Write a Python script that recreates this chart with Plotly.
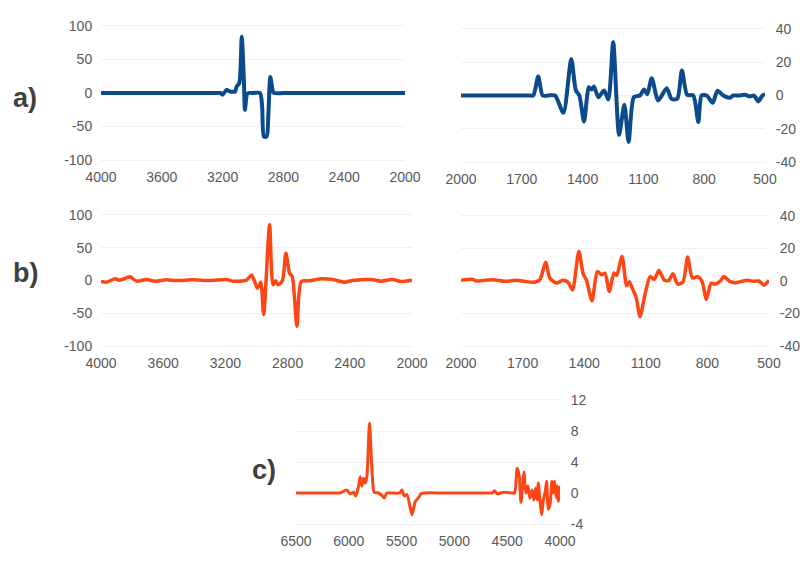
import plotly.graph_objects as go

# a) left: 4000-2000
a_left_x = [4000, 3700, 3400, 3250, 3215, 3200, 3173, 3150, 3134, 3118, 3107, 3090, 3074, 3060, 3053,
            3040, 3031, 3000, 2954, 2940, 2928, 2910, 2899, 2886, 2870, 2862, 2800, 2600, 2300, 2000]
a_left_y = [0, 0, 0, 0, 0, -2.5, 5, 2, 2, 2, 10, 15, 84, 20, -25,
            -2, 0, 0, 0, -20, -65, -65, -32, 24, 3, 0, 0, 0, 0, 0]

# a) right: 2000-500
a_right_x = [2000, 1900, 1800, 1700, 1660, 1643, 1619, 1597, 1570, 1536, 1495, 1456, 1433, 1416, 1393,
             1369, 1355, 1344, 1322, 1294, 1273, 1249, 1220, 1194, 1173, 1147, 1117, 1097, 1081, 1059,
             1027, 985, 961, 933, 910, 884, 854, 829, 813, 788, 758, 735, 706, 673, 657,
             630, 599, 574, 554, 533, 512, 500]
a_right_y = [0, 0, 0, 0, 0, 0, 11.4, 0, 0, 0, -10.4, 22, 3, 0, -15.6,
             5, 3.6, 5.4, -1, 3, -2.4, 32, -23.6, -5.6, -28, -1, 0, 3.6, 0.8, 10.4,
             -3, 4.4, -2, -2, 15, 0.4, 0, -16, 0, 0, -4.4, 2.8, 0, -1.4, 0,
             0, 0.4, -0.6, 0, -3.6, 0, 0.6]

# b) left: 4000-2000
b_left_x = [4000, 3965, 3943, 3910, 3878, 3814, 3771, 3707, 3653, 3579, 3514, 3407, 3300, 3194, 3151,
            3065, 3031, 2995, 2973, 2954, 2916, 2894, 2877, 2862, 2834, 2811, 2787, 2770, 2740, 2712,
            2659, 2584, 2509, 2434, 2381, 2263, 2199, 2124, 2071, 2000]
b_left_y = [-1.5, -2.5, -0.5, 2.5, 0.5, 5.6, -1, 1.5, -1, 1, 0, 1, 0, 1.5, -1,
            0.5, 8.6, -11.7, -2.5, -52, 85, -6.6, -0.5, -6.6, -0.5, 41.6, 11, 6, -70, -1.5,
            -0.5, 2.5, 1.5, -2.5, 0, 1.5, -1, 1.5, -1.5, 0.5]

# b) right: 2000-500
b_right_x = [2000, 1943, 1925, 1880, 1845, 1780, 1731, 1690, 1649, 1617, 1587, 1568, 1535, 1503, 1478,
             1457, 1426, 1405, 1389, 1362, 1336, 1315, 1299, 1278, 1255, 1242, 1216, 1193, 1180, 1164,
             1147, 1128, 1108, 1079, 1059, 1036, 1010, 989, 968, 945, 919, 896, 873, 847, 826,
             805, 782, 761, 736, 720, 691, 663, 639, 606, 573, 549, 524, 500]
b_right_y = [0.4, 1, 0, 0.5, 0.8, -0.2, 0.5, -0.2, -0.8, 0.6, 11.6, 1.9, -1.2, 0.4, -0.8,
             -5.6, 18.2, 4.4, 0.6, -12.2, 5.8, 3.9, 4.8, -6.4, 5, 3.3, 15.1, -2.9, -0.4, -5,
             -10, -22, -10.8, 2.7, 1, 6.4, 0.6, 0.2, 4.4, -1.9, -0.6, 14.7, 1.9, 2.7, -0.2,
             -11.2, -1.5, -1.9, 0.2, 2.7, -0.2, -1, -0.4, 0.4, -0.2, 0, -2.5, 0.4]

# c): 6500-4000
c_x = [6500, 6300, 6100, 6082, 6019, 5987, 5956, 5934, 5908, 5892, 5877, 5861, 5845, 5829, 5804,
       5778, 5759, 5718, 5687, 5665, 5639, 5600, 5519, 5497, 5475, 5449, 5402, 5370, 5339, 5316,
       5290, 5100, 4900, 4660, 4642, 4620, 4595, 4532, 4450, 4430, 4405, 4386, 4370, 4354, 4342,
       4323, 4304, 4285, 4263, 4247, 4231, 4215, 4206, 4190, 4174, 4158, 4139, 4127, 4111, 4095,
       4076, 4063, 4051, 4035, 4025, 4016, 4000]
c_y = [0, 0, 0, 0, 0.4, -0.1, 0.1, -0.4, 0.9, 2.1, 0.9, 1.9, 1.3, 2.1, 9.0,
       2.4, 0.1, 0, -0.3, -0.65, 0, 0, 0, 0.4, -0.4, -0.2, -2.8, -1.1, -0.6, -0.1,
       0, 0, 0, 0, 0, 0.3, -0.1, 0.1, 0, 0, 3.2, 2.2, -1.2, 0.9, 2.7,
       0, 0.9, -0.65, 0.4, -0.9, 0.65, -0.9, 1.3, -0.9, -2.8, -0.9, 0.2, 1.5, -2.1, -1.5,
       1.5, 0, 1.5, -0.65, 0.9, -1.1, 0.9]

BLUE = "#0b4a8b"
ORANGE = "#fd4614"
FONT = "Liberation Sans, Arial, sans-serif"
TICK_COLOR = "#595959"
GRID = "#f0f0f0"

W, H = 800, 563


def px_dom_x(x0, x1):
    return [x0 / W, x1 / W]


def px_dom_y(ytop, ybot):
    return [(H - ybot) / H, (H - ytop) / H]


def ticks(lo, hi, step):
    vals = list(range(lo, hi + 1, step))
    return vals, [str(v) for v in vals]


fig = go.Figure()

panels = [
    # x, y, color, width, xdomain, ydomain, xrange, xstep, yrange, ystep, yside
    (a_left_x, a_left_y, BLUE, 4, px_dom_x(101, 405), px_dom_y(26, 160), [4000, 2000], 400, [-100, 100], 50, "left"),
    (a_right_x, a_right_y, BLUE, 4, px_dom_x(461, 765), px_dom_y(29, 162), [2000, 500], 300, [-40, 40], 20, "right"),
    (b_left_x, b_left_y, ORANGE, 3.5, px_dom_x(101, 412), px_dom_y(215, 346), [4000, 2000], 400, [-100, 100], 50, "left"),
    (b_right_x, b_right_y, ORANGE, 3.5, px_dom_x(461, 769), px_dom_y(216, 346), [2000, 500], 300, [-40, 40], 20, "right"),
    (c_x, c_y, ORANGE, 3, px_dom_x(296, 560), px_dom_y(400, 524), [6500, 4000], 500, [-4, 12], 4, "right"),
]

layout_axes = {}
for i, (xs, ys, col, lw, xd, yd, xr, xstep, yr, ystep, side) in enumerate(panels, start=1):
    sfx = "" if i == 1 else str(i)
    fig.add_trace(go.Scatter(
        x=xs, y=ys, mode="lines",
        line=dict(color=col, width=lw, shape="spline", smoothing=0.7),
        xaxis="x" + sfx, yaxis="y" + sfx, showlegend=False, hoverinfo="skip",
    ))
    xv, xt = ticks(xr[1], xr[0], xstep)
    yv, yt = ticks(yr[0], yr[1], ystep)
    layout_axes["xaxis" + sfx] = dict(
        domain=xd, range=xr, tickvals=xv, ticktext=xt, anchor="y" + sfx, automargin=False,
        showgrid=False, zeroline=False, showline=True, linecolor=GRID, mirror=True,
        ticks="outside", ticklen=4, tickcolor="rgba(0,0,0,0)",
        tickfont=dict(family=FONT, size=14, color=TICK_COLOR),
    )
    layout_axes["yaxis" + sfx] = dict(
        domain=yd, range=yr, tickvals=yv, ticktext=yt, anchor="x" + sfx, side=side, automargin=False,
        showgrid=True, gridcolor=GRID, gridwidth=1, zeroline=False, showline=False,
        ticks="outside", ticklen=7 if side == "right" else 5, tickcolor="rgba(0,0,0,0)",
        tickfont=dict(family=FONT, size=14, color=TICK_COLOR),
    )

fig.update_layout(
    width=W, height=H,
    margin=dict(l=0, r=0, t=0, b=0),
    paper_bgcolor="white", plot_bgcolor="white",
    **layout_axes,
)

for txt, x, y in [("a)", 25, 98), ("b)", 25, 273), ("c)", 264, 470)]:
    fig.add_annotation(
        text=txt, x=x / W, y=(H - y) / H, xref="paper", yref="paper",
        showarrow=False, xanchor="center", yanchor="middle",
        font=dict(family=FONT, size=27, color="#404040", weight="bold"),
    )

# drop the default 8px page margin so the figure fills the window exactly
fig.write_html(
    "out.html",
    config={"displayModeBar": False},
    post_script="document.body.style.margin='0';document.body.style.overflow='hidden';",
)
